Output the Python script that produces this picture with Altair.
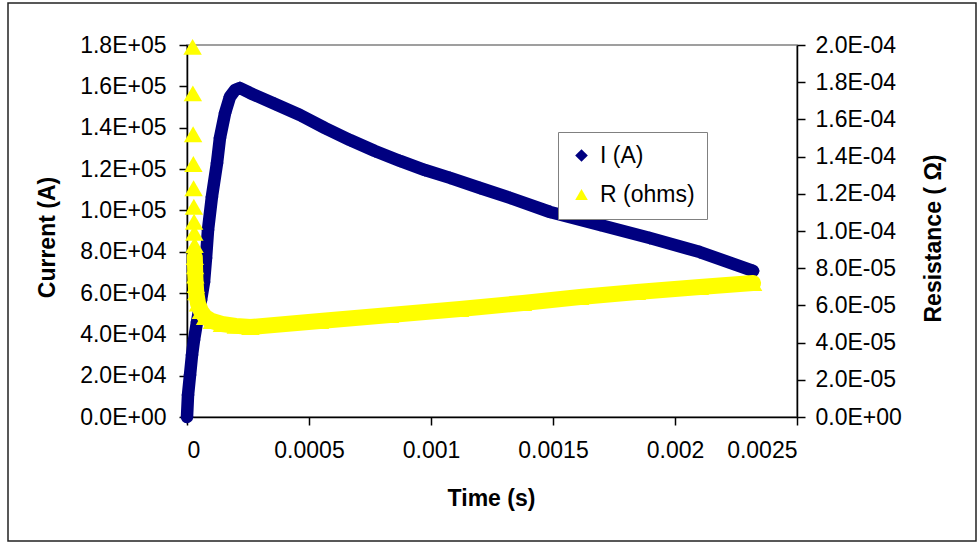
import altair as alt
import pandas as pd

# ---- data ----
series_names = ["I (A)", "R (ohms)"]
series_colors = ["#000080", "#FFFF00"]
series_shapes = ["diamond", "triangle-up"]

t_I = [0, 4.1e-6, 1.23e-5, 2.05e-5, 2.87e-5, 4.1e-5, 5.74e-5, 6.97e-5, 7.79e-5,
       8.61e-5, 1.02e-4, 1.23e-4, 1.35e-4, 1.56e-4, 1.76e-4, 1.97e-4, 2.17e-4,
       2.58e-4, 3.61e-4, 4.63e-4, 5.66e-4, 6.68e-4, 7.70e-4, 8.73e-4, 9.75e-4,
       1.078e-3, 1.201e-3, 1.324e-3, 1.488e-3, 1.693e-3, 1.897e-3, 2.102e-3, 2.32e-3]
I_vals = [0, 1.06e4, 2.03e4, 3.0e4, 3.73e4, 4.6e4, 5.66e4, 6.53e4, 7.69e4,
          9.05e4, 1.065e5, 1.229e5, 1.35e5, 1.471e5, 1.549e5, 1.582e5, 1.592e5,
          1.568e5, 1.515e5, 1.461e5, 1.398e5, 1.340e5, 1.287e5, 1.239e5, 1.195e5,
          1.157e5, 1.108e5, 1.060e5, 9.92e4, 9.29e4, 8.66e4, 7.98e4, 7.07e4]

t_R = [2.3e-5, 2.4e-5, 2.5e-5, 2.6e-5, 2.7e-5, 2.8e-5, 2.9e-5, 3.0e-5, 3.1e-5,
       3.2e-5, 3.3e-5, 3.4e-5, 3.6e-5, 3.8e-5, 4.5e-5, 5.7e-5, 7.4e-5, 1.02e-4,
       1.43e-4, 2.0e-4, 2.6e-4, 5.45e-4, 8.32e-4, 1.119e-3, 1.377e-3, 1.611e-3,
       1.844e-3, 2.102e-3, 2.32e-3]
R_vals = [1.99e-4, 1.74e-4, 1.52e-4, 1.36e-4, 1.23e-4, 1.13e-4, 1.05e-4, 9.9e-5,
          9.25e-5, 8.6e-5, 8.1e-5, 7.6e-5, 7.1e-5, 6.7e-5, 6.1e-5, 5.7e-5, 5.38e-5,
          5.16e-5, 5.0e-5, 4.9e-5, 4.84e-5, 5.16e-5, 5.48e-5, 5.81e-5, 6.13e-5,
          6.45e-5, 6.72e-5, 6.99e-5, 7.2e-5]

x_ticks = [0, 0.0005, 0.001, 0.0015, 0.002, 0.0025]
yl_ticks = [0, 2e4, 4e4, 6e4, 8e4, 1e5, 1.2e5, 1.4e5, 1.6e5, 1.8e5]
yr_ticks = [0, 2e-5, 4e-5, 6e-5, 8e-5, 1e-4, 1.2e-4, 1.4e-4, 1.6e-4, 1.8e-4, 2e-4]

dfI = pd.DataFrame({"t": t_I, "v": I_vals, "series": series_names[0]})
dfR = pd.DataFrame({"t": t_R, "v": R_vals, "series": series_names[1]})

FONT = "Liberation Sans"
FS = 23

EXP = "floor(log(datum.value)/LN10 + 1e-9)"
sci_expr = (
    "datum.value == 0 ? '0.0E+00' : format(datum.value / pow(10, " + EXP + "), '.1f') + 'E' + ("
    + EXP + " < 0 ? '-' : '+') + (abs(" + EXP + ") < 10 ? '0' : '') + abs(" + EXP + ")"
)

x_axis = alt.Axis(values=x_ticks, format="~g", title="Time (s)", labelPadding=14,
                  titleX=304, titleY=81, titleBaseline="middle", titleAlign="center")
xenc = alt.X("t:Q", scale=alt.Scale(domain=[0, 0.0025], nice=False, zero=False), axis=x_axis)

yl_axis = alt.Axis(orient="left", values=yl_ticks, labelExpr=sci_expr, title="Current (A)",
                   labelPadding=13, titleX=-140, titleY=192, titleAngle=270,
                   titleBaseline="middle", titleAlign="center")
yr_axis = alt.Axis(orient="right", values=yr_ticks, labelExpr=sci_expr, title="Resistance ( Ω)",
                   labelPadding=10, titleX=136, titleY=193, titleAngle=270,
                   titleBaseline="middle", titleAlign="center")

ylenc = alt.Y("v:Q", scale=alt.Scale(domain=[0, 1.8e5], nice=False), axis=yl_axis)
yrenc = alt.Y("v:Q", scale=alt.Scale(domain=[0, 2e-4], nice=False), axis=yr_axis)

legend = alt.Legend(orient="none", legendX=371, legendY=87, strokeColor="#808080",
                    fillColor="white", padding=12, labelFont=FONT, labelFontSize=FS,
                    labelColor="black", symbolSize=160, rowPadding=15, labelOffset=7,
                    symbolStrokeWidth=0)
color = alt.Color("series:N", scale=alt.Scale(domain=series_names, range=series_colors),
                  legend=legend, title=None)
shape = alt.Shape("series:N", scale=alt.Scale(domain=series_names, range=series_shapes),
                  legend=legend, title=None)

frame = alt.Chart(pd.DataFrame({"a": [0]})).mark_rect(
    fill="white", fillOpacity=0, stroke="#222222", strokeWidth=1.5
).encode(x=alt.value(-179), x2=alt.value(789), y=alt.value(-42), y2=alt.value(496))

I_line = alt.Chart(dfI).mark_line(color=series_colors[0], strokeWidth=12.5,
                                  strokeCap="round", strokeJoin="round").encode(x=xenc, y=ylenc)
I_pts = alt.Chart(dfI).mark_point(filled=True, size=175, opacity=1).encode(
    x=xenc, y=ylenc, color=color, shape=shape)

R_line = alt.Chart(dfR).transform_filter("datum.t >= 3.2e-5").mark_line(
    color=series_colors[1], strokeWidth=16, strokeCap="round", strokeJoin="round"
).encode(x=xenc, y=yrenc)
R_pts = alt.Chart(dfR).mark_point(filled=True, size=340, opacity=1).encode(
    x=xenc, y=yrenc, color=color, shape=shape)

left = alt.layer(I_line, I_pts)
right = alt.layer(R_line, R_pts)

chart = alt.layer(frame, left, right).resolve_scale(y="independent").properties(
    width=610, height=372,
    autosize=alt.AutoSizeParams(type="none"),
    padding={"left": 187, "top": 45, "right": 180, "bottom": 125},
    background="white",
).configure_view(stroke="#808080", strokeWidth=1.5).configure_axis(
    grid=False, domainColor="black", tickColor="black", domainWidth=1.5, tickWidth=1.5,
    tickSize=8, labelFont=FONT, labelFontSize=FS, labelColor="black",
    titleFont=FONT, titleFontSize=FS, titleFontWeight="bold", titleColor="black",
)

chart.save("out.html", embed_options={"renderer": "svg", "actions": False})
